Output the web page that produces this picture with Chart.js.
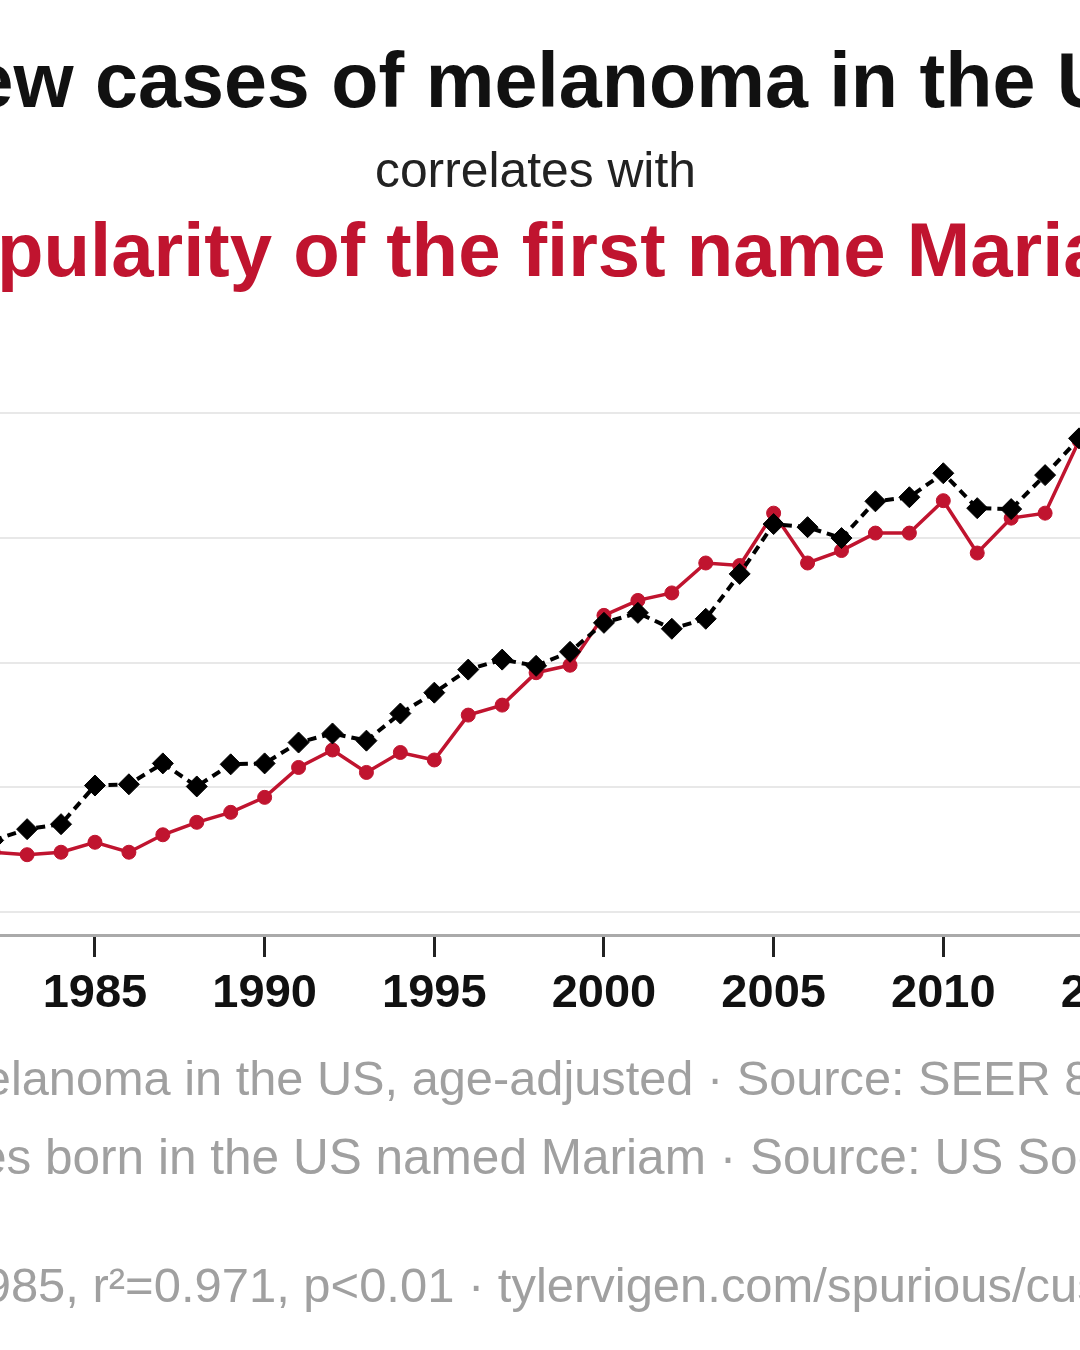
<!DOCTYPE html>
<html>
<head>
<meta charset="utf-8">
<title>Melanoma vs Mariam</title>
<script src="https://cdn.jsdelivr.net/npm/chart.js@4.4.0/dist/chart.umd.min.js"></script>
<style>
    html, body {
        margin: 0;
        padding: 0;
        width: 1080px;
        height: 1350px;
        overflow: hidden;
        background: #fff;
    }
    #chartWrap {
        position: absolute;
        left: -188px;
        top: 370px;
        width: 1550px;
        height: 675px;
    }
    .txt {
        position: absolute;
        white-space: nowrap;
        font-family: "Liberation Sans", Arial, sans-serif;
    }
</style>
</head>
<body>
<div id="chartWrap"><canvas id="chart" width="1550" height="675"></canvas></div>
<script>
// data
const years = [1982, 1983, 1984, 1985, 1986, 1987, 1988, 1989, 1990, 1991, 1992,
    1993, 1994, 1995, 1996, 1997, 1998, 1999, 2000, 2001, 2002, 2003,
    2004, 2005, 2006, 2007, 2008, 2009, 2010, 2011, 2012, 2013, 2014];

// new melanoma cases per 100k, age-adjusted (black)
const melanomaRate = [12.30, 12.66, 12.82, 14.06, 14.10, 14.77, 14.03, 14.74, 14.77, 15.44, 15.73,
    15.50, 16.37, 17.04, 17.78, 18.10, 17.90, 18.35, 19.28, 19.60, 19.09, 19.41,
    20.85, 22.45, 22.35, 22.00, 23.18, 23.31, 24.08, 22.96, 22.93, 24.02, 25.20];

// babies named Mariam (red)
const mariamBabies = [74, 73, 74, 78, 74, 81, 86, 90, 96, 108, 115,
    106, 114, 111, 129, 133, 146, 149, 169, 175, 178, 190,
    189, 210, 190, 195, 202, 202, 215, 194, 208, 210, 239];

const xTickYears = [1980, 1985, 1990, 1995, 2000, 2005, 2010, 2015, 2020];
const rateGrid = [10, 14, 18, 22, 26];

const FONT = '"Liberation Sans", Arial, sans-serif';
const RED = '#c0142f';

// text lines, placed by two anchor substrings so the crop lines up
const textSpecs = [
    { text: 'New cases of melanoma in the US', weight: 'bold', a1: 'cases', x1: 95, a2: 'US', x2: 1057, baseline: 108, color: '#111' },
    { text: 'correlates with', weight: 'normal', a1: 'correlates', x1: 375, a2: null, x2: 696, baseline: 188, color: '#222' },
    { text: 'Popularity of the first name Mariam', weight: 'bold', a1: 'pularity', x1: -3, a2: 'Mariam', x2: 907, baseline: 277, color: RED },
    { text: 'New cases of melanoma in the US, age-adjusted · Source: SEER 8 Regions', weight: 'normal', a1: 'lanoma', x1: 11, a2: 'Source', x2: 737, baseline: 1095, color: '#a0a0a0' },
    { text: 'Babies of all sexes born in the US named Mariam · Source: US Social Security Administration', weight: 'normal', a1: 'born', x1: 45, a2: 'Source', x2: 750, baseline: 1175, color: '#a0a0a0' },
    { text: '1982-2014, r=0.985, r²=0.971, p<0.01 · tylervigen.com/spurious/custom', weight: 'normal', a1: '85,', x1: 11, a2: 'custom', x2: 1026, baseline: 1303, color: '#a0a0a0' }
];

function placeText(spec) {
    const measure = document.createElement('canvas').getContext('2d');
    measure.font = `${spec.weight} 100px ${FONT}`;
    const i1 = spec.text.indexOf(spec.a1);
    let size = spec.size;
    if (spec.x2 !== undefined) {
        const i2 = spec.a2 ? spec.text.indexOf(spec.a2) : spec.text.length;
        const w = measure.measureText(spec.text.slice(i1, i2)).width;
        size = 100 * (spec.x2 - spec.x1) / w;
    }
    const m = measure.measureText(spec.text);
    const asc = m.fontBoundingBoxAscent * size / 100;
    const desc = m.fontBoundingBoxDescent * size / 100;
    const pre = measure.measureText(spec.text.slice(0, i1)).width * size / 100;

    const el = document.createElement('div');
    el.className = 'txt';
    el.textContent = spec.text;
    el.style.fontWeight = spec.weight;
    el.style.fontSize = size + 'px';
    el.style.lineHeight = size + 'px';
    el.style.color = spec.color;
    el.style.left = (spec.x1 - pre) + 'px';
    el.style.top = (spec.baseline - ((size - asc - desc) / 2 + asc)) + 'px';
    document.body.appendChild(el);
}

textSpecs.forEach(placeText);

const ctx = document.getElementById('chart');

new Chart(ctx, {
    type: 'line',
    data: {
        datasets: [
            {
                label: 'Melanoma',
                data: years.map((y, i) => ({ x: y, y: melanomaRate[i] })),
                yAxisID: 'yRate',
                borderColor: '#000',
                borderWidth: 4,
                borderDash: [9, 6],
                pointStyle: 'rectRot',
                pointRadius: 10.5,
                pointBackgroundColor: '#000',
                pointBorderColor: '#000',
                pointBorderWidth: 1,
                tension: 0
            },
            {
                label: 'Mariam',
                data: years.map((y, i) => ({ x: y, y: mariamBabies[i] })),
                yAxisID: 'yBabies',
                borderColor: RED,
                borderWidth: 3.5,
                pointStyle: 'circle',
                pointRadius: 7,
                pointBackgroundColor: RED,
                pointBorderColor: RED,
                pointBorderWidth: 1,
                tension: 0
            }
        ]
    },
    options: {
        responsive: false,
        animation: false,
        layout: { padding: { top: 10, left: 0, right: 0, bottom: 0 } },
        plugins: {
            legend: { display: false },
            tooltip: { enabled: false }
        },
        scales: {
            x: {
                type: 'linear',
                min: 1977,
                max: 2022,
                afterBuildTicks: (axis) => { axis.ticks = xTickYears.map(v => ({ value: v })); },
                afterFit: (scale) => { scale.height = 110; },
                grid: {
                    drawOnChartArea: false,
                    drawTicks: true,
                    tickLength: 22,
                    tickColor: '#222',
                    tickWidth: 3
                },
                border: { display: true, color: '#aaa', width: 3 },
                ticks: {
                    autoSkip: false,
                    maxRotation: 0,
                    padding: 9,
                    color: '#111',
                    font: { family: FONT, size: 47, weight: 'bold' },
                    callback: (v) => String(v)
                }
            },
            yRate: {
                position: 'left',
                min: 9.264,
                max: 27.024,
                afterBuildTicks: (axis) => { axis.ticks = rateGrid.map(v => ({ value: v })); },
                afterFit: (scale) => { scale.width = 0; },
                grid: { color: '#e8e8e8', lineWidth: 2, drawTicks: false },
                border: { display: false },
                ticks: { display: false }
            },
            yBabies: {
                position: 'right',
                display: false,
                min: 40.8,
                max: 262.8
            }
        }
    }
});
</script>
</body>
</html>
